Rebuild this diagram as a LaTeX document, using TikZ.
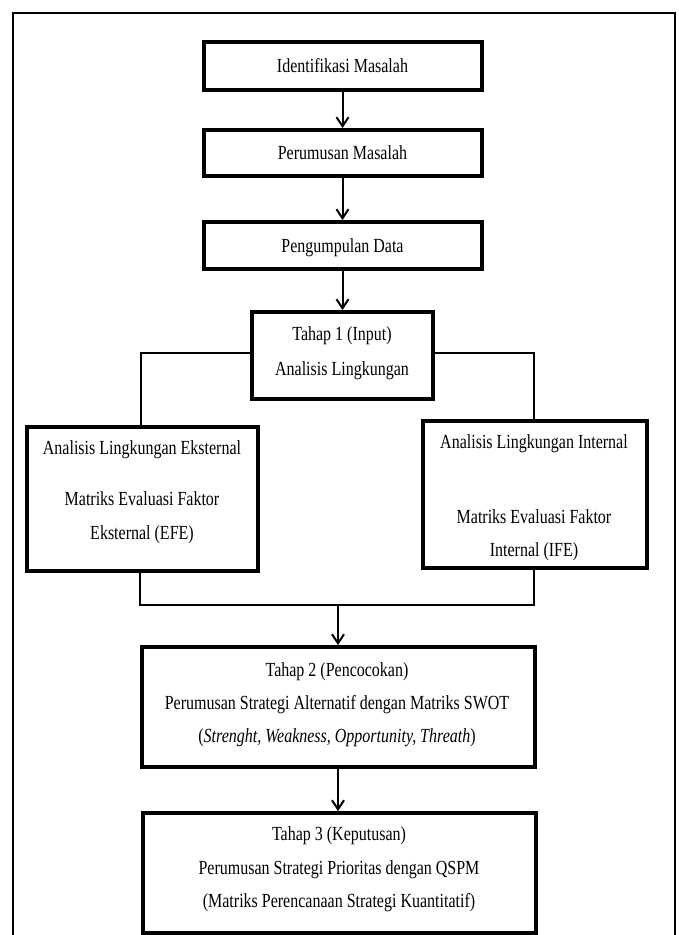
\documentclass[tikz,border=0pt]{standalone}
\usepackage{fontspec}
\setmainfont{Liberation Serif}[FakeStretch=0.8]
\usetikzlibrary{arrows.meta}
\begin{document}
\begin{tikzpicture}[x=1pt,y=-1pt,
  box/.style={draw=black,line width=4pt,rectangle,inner sep=0pt},
  txt/.style={anchor=base,inner sep=0pt,font=\fontsize{20}{24}\selectfont},
  conn/.style={draw=black,line width=2pt},
  arr/.style={conn,-{Straight Barb[length=9pt,width=12pt]}},
  frame/.style={draw=black,line width=1.6pt}]
\useasboundingbox (0,0) rectangle (679,935);
% outer frame
\coordinate (fbl) at (13,935);
\coordinate (ftl) at (13,13);
\coordinate (ftr) at (675,13);
\coordinate (fbr) at (675,935);
\draw[frame] (fbl) -- (ftl) -- (ftr) -- (fbr);
% boxes
\node[box,minimum width=278pt,minimum height=48pt] (b1) at (342.5,66) {};
\node[box,minimum width=278pt,minimum height=46pt] (b2) at (342.5,153) {};
\node[box,minimum width=278pt,minimum height=47pt] (b3) at (342.5,245.5) {};
\node[box,minimum width=181pt,minimum height=87pt] (b4) at (342,355.5) {};
\node[box,minimum width=231pt,minimum height=144pt] (b5) at (142.5,499) {};
\node[box,minimum width=224pt,minimum height=147pt] (b6) at (535,494.5) {};
\node[box,minimum width=393pt,minimum height=120pt] (b7) at (338,707) {};
\node[box,minimum width=393pt,minimum height=120pt] (b8) at (339.5,873) {};
% texts
\node[txt] (t1) at (342.5,72.5) {Identifikasi Masalah};
\node[txt] (t2) at (342.5,159.5) {Perumusan Masalah};
\node[txt] (t3) at (342.5,252.5) {Pengumpulan Data};
\node[txt] (t4a) at (342,340.5) {Tahap 1 (Input)};
\node[txt] (t4b) at (342,375.5) {Analisis Lingkungan};
\node[txt] (t5a) at (142,454.5) {Analisis Lingkungan Eksternal};
\node[txt] (t5b) at (142,505.5) {Matriks Evaluasi Faktor};
\node[txt] (t5c) at (142,539.5) {Eksternal (EFE)};
\node[txt] (t6a) at (534,448.5) {Analisis Lingkungan Internal};
\node[txt] (t6b) at (534,523.5) {Matriks Evaluasi Faktor};
\node[txt] (t6c) at (534,556.5) {Internal (IFE)};
\node[txt] (t7a) at (337,676.5) {Tahap 2 (Pencocokan)};
\node[txt] (t7b) at (337,709.5) {Perumusan Strategi Alternatif dengan Matriks SWOT};
\node[txt] (t7c) at (337,742.5) {(\textit{Strenght, Weakness, Opportunity, Threath})};
\node[txt] (t8a) at (339,840.5) {Tahap 3 (Keputusan)};
\node[txt] (t8b) at (339,874.5) {Perumusan Strategi Prioritas dengan QSPM};
\node[txt] (t8c) at (339,907.5) {(Matriks Perencanaan Strategi Kuantitatif)};
% connectors
\draw[arr] (b1.south) -- (b2.north);
\draw[arr] (b2.south) -- (b3.north);
\draw[arr] (b3.south) -- (b3.south |- b4.north);
\coordinate (lc) at (141,353);
\coordinate (rc) at (534,353);
\draw[conn] (b4.west |- lc) -- (lc) -- (lc |- b5.north);
\draw[conn] (b4.east |- rc) -- (rc) -- (rc |- b6.north);
\coordinate (bl) at (140,605);
\coordinate (br) at (534,605);
\coordinate (bm) at (338,605);
\draw[conn] (bl |- b5.south) -- (bl) -- (br) -- (br |- b6.south);
\draw[arr] (bm) -- (bm |- b7.north);
\draw[arr] (b7.south -| bm) -- (bm |- b8.north);
\end{tikzpicture}
\end{document}
